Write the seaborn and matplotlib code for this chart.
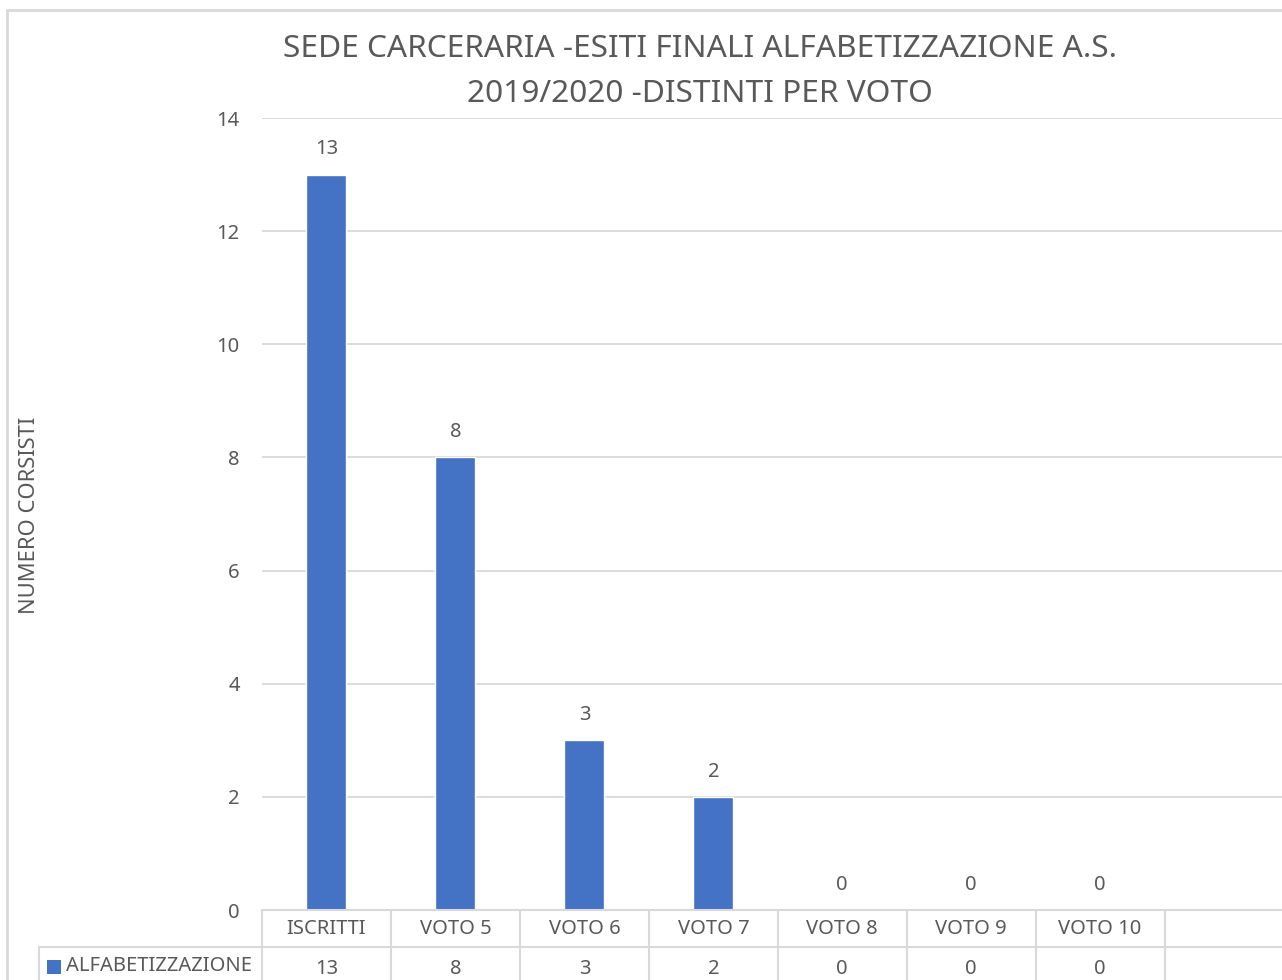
import matplotlib
matplotlib.use("Agg")
import matplotlib.pyplot as plt
import seaborn as sns
import pandas as pd
from matplotlib.lines import Line2D
from matplotlib.patches import Rectangle

categories = ["ISCRITTI", "VOTO 5", "VOTO 6", "VOTO 7", "VOTO 8", "VOTO 9", "VOTO 10"]
values = [13, 8, 3, 2, 0, 0, 0]
series_name = "ALFABETIZZAZIONE"
yticks = [0, 2, 4, 6, 8, 10, 12, 14]

df = pd.DataFrame({"cat": categories, "val": values})

sns.set_theme(style="white")
plt.rcParams['font.family'] = ['Noto Sans', 'DejaVu Sans']

TXT = "#595959"
GRID = "#D9D9D9"
BAR = "#4472C4"
FS = 14.5

W, H = 1282, 980
fig = plt.figure(figsize=(W / 100, H / 100), dpi=100)
ax = fig.add_axes([262 / W, (H - 910) / H, (1282 - 262) / W, (910 - 118) / H])

sns.barplot(data=df, x="cat", y="val", color=BAR, width=0.31, ax=ax, saturation=1)

ax.set_ylim(0, 14)
ax.set_xlim(-0.5, 7.41)
ax.set_yticks(yticks)
ax.set_yticklabels([str(t) for t in yticks], color=TXT, fontsize=FS)
ax.tick_params(axis="y", length=0, pad=16)
ax.set_xticks([])
ax.set_xlabel("")
ax.set_ylabel("")
for s in ax.spines.values():
    s.set_visible(False)
ax.yaxis.grid(True, color=GRID, linewidth=1.3)
ax.set_axisbelow(True)

# data labels
for i, v in enumerate(values):
    ax.annotate(str(v), (i, v), xytext=(0, 11), textcoords="offset points",
                ha="center", va="bottom", color=TXT, fontsize=FS)

# data table
tr = ax.get_xaxis_transform()
r1 = -37 / 792
r2 = -75 / 792
xleft = -0.5 - (262 - 39) / 129
lines = []
lines.append(Line2D([-0.5, 7.41], [0, 0], transform=tr))
lines.append(Line2D([xleft, 7.41], [r1, r1], transform=tr))
lines.append(Line2D([xleft, xleft], [r1, r2 - 0.02], transform=tr))
for k in range(len(categories) + 1):
    lines.append(Line2D([k - 0.5, k - 0.5], [0, r2 - 0.02], transform=tr))
for ln in lines:
    ln.set_color(GRID)
    ln.set_linewidth(1.5)
    ln.set_clip_on(False)
    ax.add_line(ln)

for i, (c, v) in enumerate(zip(categories, values)):
    ax.text(i, r1 / 2, c, transform=tr, ha="center", va="center", color=TXT, fontsize=FS)
    ax.text(i, (r1 + r2) / 2 - 0.004, str(v), transform=tr, ha="center", va="center", color=TXT, fontsize=FS)

# legend key in table
fig.patches.append(Rectangle((47 / W, (H - 974) / H), 14 / W, 14 / H, transform=fig.transFigure,
                             facecolor=BAR, edgecolor="none"))
fig.text(66 / W, (H - 966) / H, series_name, ha="left", va="center", color=TXT, fontsize=FS)

# y label
fig.text(30 / W, (H - 515) / H, "NUMERO CORSISTI", rotation=90, ha="center", va="center",
         color=TXT, fontsize=15.8)

# title
fig.text(700 / W, (H - 49) / H, "SEDE CARCERARIA -ESITI FINALI ALFABETIZZAZIONE A.S.",
         ha="center", va="center", color=TXT, fontsize=22.8)
fig.text(700 / W, (H - 94) / H, "2019/2020 -DISTINTI PER VOTO",
         ha="center", va="center", color=TXT, fontsize=22.8)

# chart border
fig.add_artist(Line2D([7 / W, 7 / W], [0, (H - 10) / H], transform=fig.transFigure, color=GRID, linewidth=2))
fig.add_artist(Line2D([7 / W, 1], [(H - 10) / H, (H - 10) / H], transform=fig.transFigure, color=GRID, linewidth=2))

fig.savefig("out.png", dpi=100)
